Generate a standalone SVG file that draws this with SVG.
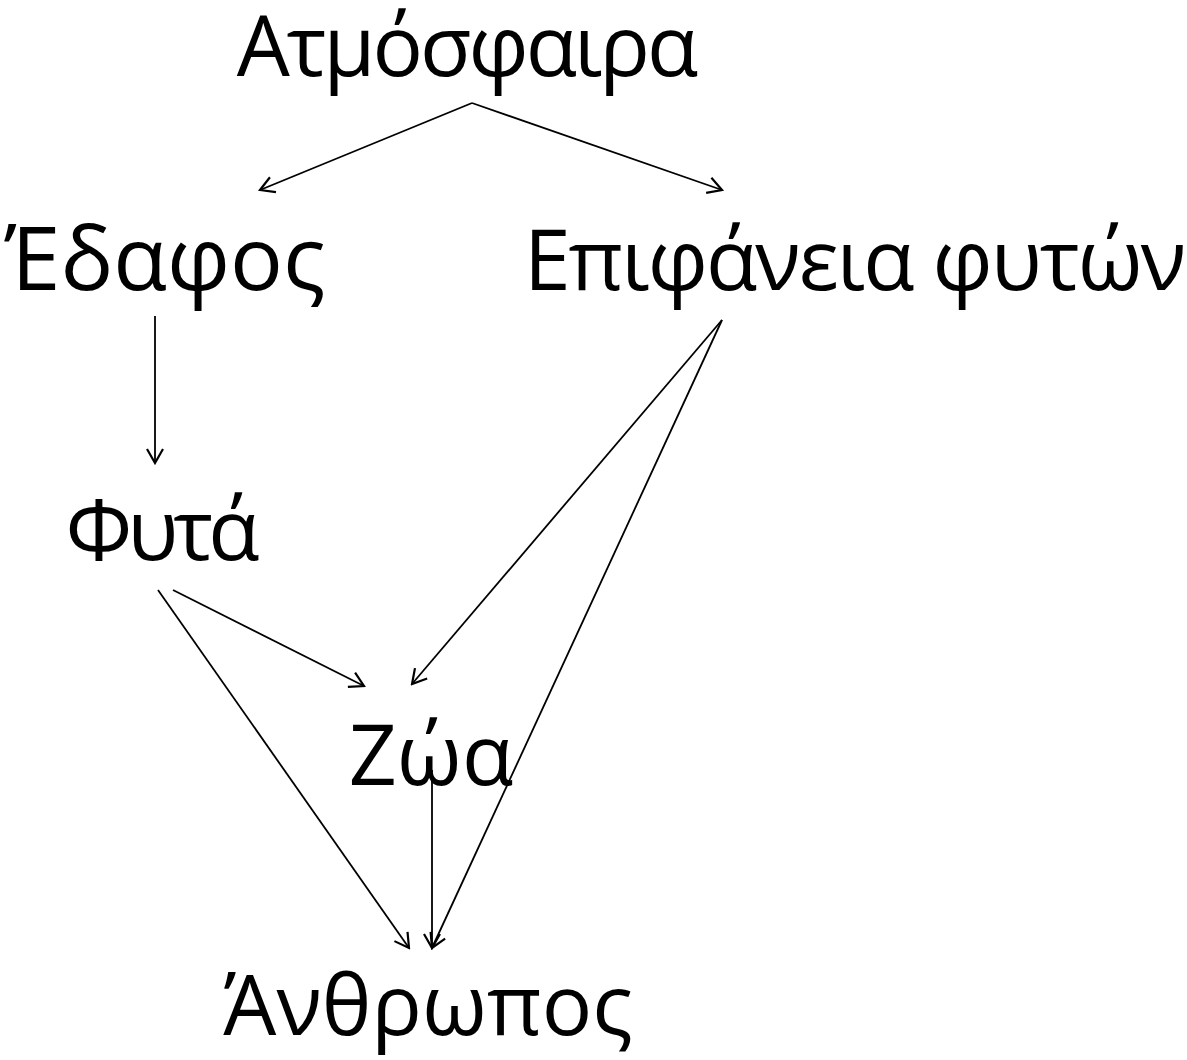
<svg xmlns="http://www.w3.org/2000/svg" width="1187" height="1060" viewBox="0 0 1187 1060">
<style>
text{font-family:"Open Sans","DejaVu Sans",sans-serif;font-size:84px;fill:#000;text-anchor:middle}
.c line{stroke:#000;stroke-width:1.8;fill:none;marker-end:url(#ah)}
</style>
<defs>
<marker id="ah" viewBox="0 0 20 20" refX="18" refY="10" markerWidth="20" markerHeight="20" markerUnits="userSpaceOnUse" orient="auto">
<path d="M4,2 L18,10 L4,18" fill="none" stroke="#000" stroke-width="2.2"/>
</marker>
</defs>
<rect width="1187" height="1060" fill="#fff"/>
<g id="n-atm"><text x="466" y="76" letter-spacing="-3">Ατμόσφαιρα</text></g>
<g id="n-edafos"><text x="165" y="290" style="font-size:88px">Έδαφος</text></g>
<g id="n-epif"><text x="854" y="290" letter-spacing="-2">Επιφάνεια φυτών</text></g>
<g id="n-fyta"><text x="160" y="560" letter-spacing="-5">Φυτά</text></g>
<g id="n-zoa"><text x="431" y="785">Ζώα</text></g>
<g id="n-anth"><text x="428" y="1035">Άνθρωπος</text></g>
<g class="c" id="connectors">
<line x1="472" y1="103" x2="260" y2="190"/>
<line x1="472" y1="103" x2="722" y2="190"/>
<line x1="155" y1="316" x2="155" y2="463"/>
<line x1="722" y1="320" x2="412" y2="684"/>
<line x1="722" y1="320" x2="432" y2="948"/>
<line x1="173" y1="590" x2="364" y2="686"/>
<line x1="158" y1="590" x2="409" y2="948"/>
<line x1="432" y1="770" x2="432" y2="948"/>
</g>
</svg>
